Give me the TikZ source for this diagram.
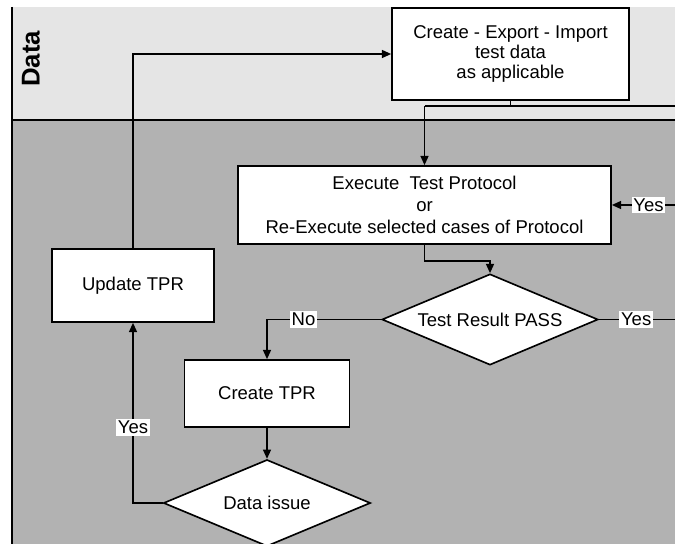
\documentclass[tikz,border=0pt]{standalone}
\usepackage{fontspec}
\setmainfont{Liberation Sans}
\usetikzlibrary{shapes.geometric,arrows.meta}

\begin{document}
\begin{tikzpicture}[x=0.03cm,y=-0.03cm,
    box/.style={draw,fill=white,line width=1.4pt,align=center,font=\fontsize{15.8}{18.5}\selectfont},
    dec/.style={draw,fill=white,line width=1.4pt,diamond,aspect=2.4,inner sep=0pt,font=\fontsize{15.8}{18}\selectfont},
    lbl/.style={fill=white,inner sep=1.5pt,font=\fontsize{15.8}{18}\selectfont},
    arr/.style={line width=1.4pt,-{Triangle[length=2.8mm,width=2.4mm]}}]
    \useasboundingbox (0,0) rectangle (675,544);
    \fill[gray!20] (12,7) rectangle (675,120);
    \fill[gray!60] (12,120) rectangle (675,544);
    \draw[line width=1.8pt] (12,7) -- (12,544);
    \draw[line width=1.5pt] (12,120) -- (675,120);
    \node[rotate=90,font=\bfseries\fontsize{22}{24}\selectfont] (lane) at (31,59) {Data};

    \node[box,minimum width=7.11cm,minimum height=2.76cm,font=\fontsize{15.8}{17}\selectfont] (imp) at (510.5,54) {Create - Export - Import\\test data\\as applicable};
    \node[box,minimum width=11.19cm,minimum height=2.34cm] (exe) at (424.5,205) {Execute\ \ Test Protocol\\or\\Re-Execute selected cases of Protocol};
    \node[box,minimum width=4.86cm,minimum height=2.19cm] (upd) at (133,285.5) {Update TPR};
    \node[dec,minimum width=6.48cm,minimum height=2.73cm] (pass) at (490,319.5) {Test Result PASS};
    \node[box,minimum width=4.95cm,minimum height=2.01cm] (ctpr) at (267,393.5) {Create TPR};
    \node[dec,minimum width=6.21cm,minimum height=2.6cm] (issue) at (267,503) {Data issue};

    \coordinate (merge) at (424.5,106);
    \coordinate (feedR) at (675,106);
    \coordinate (retR) at (675,205);
    \coordinate (passR) at (675,319.5);

    \draw[line width=1.4pt] (imp.south) -- (imp.south |- merge);
    \draw[line width=1.4pt] (feedR) -- (merge);
    \draw[arr] (merge) -- (exe.north);
    \draw[arr] (retR) -- node[lbl,pos=0.42] {Yes} (exe.east);
    \draw[arr] (exe.south) -- ++(0,16) -| (pass.north);
    \draw[line width=1.4pt] (pass.east) -- node[lbl,pos=0.49] {Yes} (passR);
    \draw[arr] (pass.west) -| node[lbl,pos=0.34] {No} (ctpr.north);
    \draw[arr] (ctpr.south) -- (issue.north);
    \draw[arr] (issue.west) -| node[lbl,pos=0.71] {Yes} (upd.south);
    \draw[arr] (upd.north) |- (imp.west);
\end{tikzpicture}
\end{document}
